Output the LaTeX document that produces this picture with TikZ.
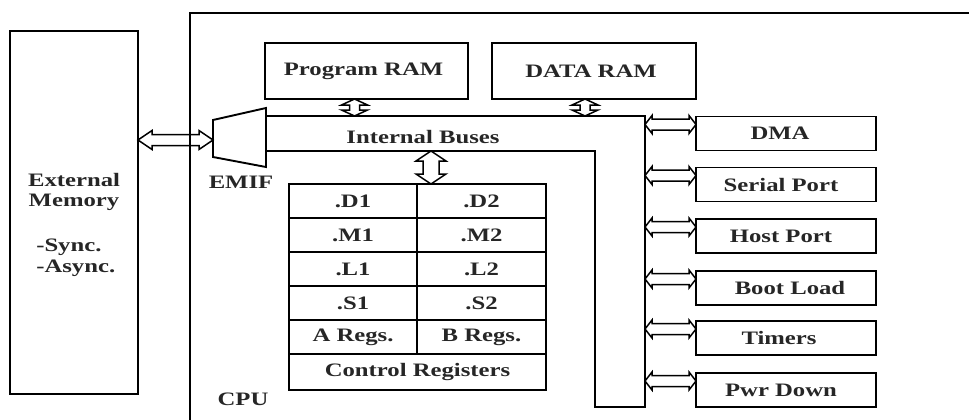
\documentclass[tikz,border=0pt]{standalone}
\usepackage{fontspec}
\setmainfont{Liberation Serif}[FakeStretch=1.3]
\usetikzlibrary{calc}
% hollow double-headed arrow: from, to, shaft half-width, head half-width, head length
\newcommand\hollowarrow[5]{%
  \coordinate (ha) at ($(#1)!#5!(#2)$);
  \coordinate (hb) at ($(#2)!#5!(#1)$);
  \draw[conn] (#1) -- ($(ha)!#4!90:(#2)$) -- ($(ha)!#3!90:(#2)$)
    -- ($(hb)!#3!-90:(#1)$) -- ($(hb)!#4!-90:(#1)$) -- (#2)
    -- ($(hb)!#4!90:(#1)$) -- ($(hb)!#3!90:(#1)$)
    -- ($(ha)!#3!-90:(#2)$) -- ($(ha)!#4!-90:(#2)$) -- cycle;
}
\begin{document}
\begin{tikzpicture}[x=1pt,y=-1pt,line width=1.9pt,
  box/.style={draw,inner sep=0pt,outer sep=0pt},
  lbl/.style={font=\fontsize{19}{20.5}\selectfont\bfseries,text=black!85},
  cell/.style={box,lbl,minimum height=34},
  periph/.style={box,lbl,minimum width=180,minimum height=34},
  conn/.style={line width=1.5pt,line join=miter}]
\useasboundingbox (0,0) rectangle (969,420);

% external memory
\node[box,minimum width=128,minimum height=363] (extmem) at (74,212.5) {};
\node[lbl,align=center] (extlbl) at (74,192) {External\\Memory};
\node[lbl,align=left,anchor=west] (synclbl) at (32,258) {-Sync.\\-Async.};

% CPU frame
\draw (190,420) -- (190,13) -- (969,13);
\node[lbl] (cpulbl) at (243,399) {CPU};

% RAMs
\node[box,lbl,minimum width=203,minimum height=56] (prog) at (366.5,71) {\hspace*{-6pt}Program RAM};
\node[box,lbl,minimum width=204,minimum height=56] (data) at (594,71) {\hspace*{-6pt}DATA RAM};

% EMIF trapezoid
\coordinate (emNW) at (213,120);
\coordinate (emNE) at (266,108);
\coordinate (emSE) at (266,167);
\coordinate (emSW) at (213,157);
\draw (emNW) -- (emNE) -- (emSE) -- (emSW) -- cycle;
\node[lbl] (emiflbl) at (241,182) {EMIF};

% internal buses
\coordinate (busTL) at (266,116);
\coordinate (busNE) at (645,116);
\coordinate (busSE) at (645,407);
\coordinate (busSW) at (595,407);
\coordinate (busIn) at (595,151);
\coordinate (busBL) at (266,151);
\draw (busTL) -- (busNE) -- (busSE) -- (busSW) -- (busIn) -- (busBL);
\node[lbl] (buslbl) at (423,137) {Internal Buses};

% register file
\node[cell,minimum width=128] (d1) at (353,201) {.D1};
\node[cell,minimum width=129] (d2) at (481.5,201) {.D2};
\node[cell,minimum width=128] (m1) at (353,235) {.M1};
\node[cell,minimum width=129] (m2) at (481.5,235) {.M2};
\node[cell,minimum width=128] (l1) at (353,269) {.L1};
\node[cell,minimum width=129] (l2) at (481.5,269) {.L2};
\node[cell,minimum width=128] (s1) at (353,303) {.S1};
\node[cell,minimum width=129] (s2) at (481.5,303) {.S2};
\node[cell,minimum width=128] (areg) at (353,337) {A Regs.};
\node[cell,minimum width=129] (breg) at (481.5,337) {B Regs.};
\node[cell,minimum width=257,minimum height=36] (ctrl) at (417.5,372) {Control Registers};

% peripherals
\node[periph] (dma) at (786,133.5) {\hspace*{-12pt}DMA};
\node[periph] (serial) at (786,184.5) {\hspace*{-10pt}Serial Port};
\node[periph] (host) at (786,236) {\hspace*{-10pt}Host Port};
\node[periph] (boot) at (786,288) {\hspace*{8pt}Boot Load};
\node[periph] (timers) at (786,338) {\hspace*{-14pt}Timers};
\node[periph] (pwr) at (786,390) {\hspace*{-10pt}Pwr Down};

% arrows
\coordinate (emA) at (213,140);
\coordinate (emB) at (extmem.east |- emA);
\hollowarrow{emB}{emA}{5.5pt}{9.5pt}{14pt}

\coordinate (prA) at ($(prog.south)+(-12,0)$);
\coordinate (prB) at (prA |- busTL);
\hollowarrow{prA}{prB}{5pt}{13pt}{6pt}

\coordinate (daA) at ($(data.south)+(-9,0)$);
\coordinate (daB) at (daA |- busTL);
\hollowarrow{daA}{daB}{5pt}{13pt}{6pt}

\coordinate (rgB) at ($(d2.north west)+(14,0)$);
\coordinate (rgA) at (rgB |- busBL);
\hollowarrow{rgA}{rgB}{8pt}{15pt}{10pt}

\foreach \p in {dma,serial,host,boot,timers,pwr}{
  \coordinate (pB) at ($(\p.west)+(0,-9)$);
  \coordinate (pA) at (busNE |- pB);
  \hollowarrow{pA}{pB}{5.5pt}{9pt}{7pt}
}
\end{tikzpicture}
\end{document}
